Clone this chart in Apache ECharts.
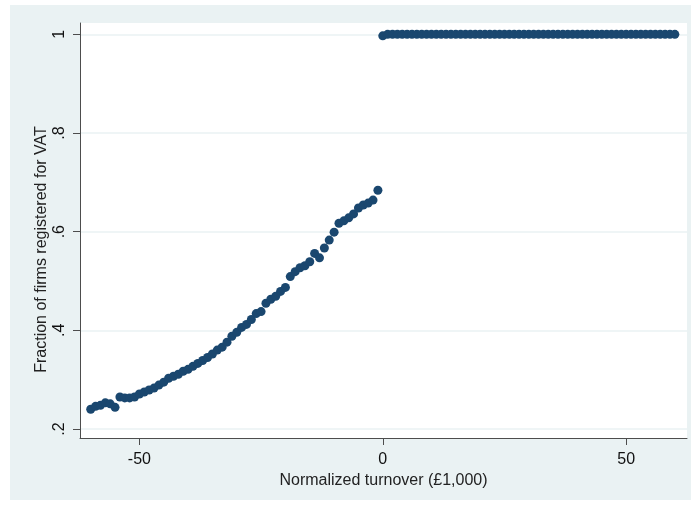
<!DOCTYPE html>
<html>
<head>
<meta charset="utf-8">
<script src="https://cdn.jsdelivr.net/npm/echarts@6/dist/echarts.min.js"></script>
<style>
  html, body { margin: 0; padding: 0; background: #fff; }
  #chart { width: 691px; height: 506px; }
</style>
</head>
<body>
<div id="chart"></div>
<script>
// bins below the threshold
var belowX = [-60, -59, -58, -57, -56, -55, -54, -53, -52, -51,
  -50, -49, -48, -47, -46, -45, -44, -43, -42, -41,
  -40, -39, -38, -37, -36, -35, -34, -33, -32, -31,
  -30, -29, -28, -27, -26, -25, -24, -23, -22, -21,
  -20, -19, -18, -17, -16, -15, -14, -13, -12, -11,
  -10, -9, -8, -7, -6, -5, -4, -3, -2, -1]
var belowY = [0.240, 0.246, 0.248, 0.253, 0.251, 0.244, 0.265, 0.263, 0.263, 0.265,
  0.271, 0.275, 0.279, 0.283, 0.289, 0.295, 0.303, 0.307, 0.311, 0.317,
  0.321, 0.327, 0.333, 0.339, 0.345, 0.352, 0.360, 0.366, 0.376, 0.388,
  0.396, 0.406, 0.412, 0.422, 0.434, 0.438, 0.455, 0.463, 0.469, 0.479,
  0.487, 0.509, 0.519, 0.527, 0.531, 0.539, 0.556, 0.547, 0.567, 0.583,
  0.599, 0.617, 0.622, 0.628, 0.636, 0.648, 0.654, 0.658, 0.664, 0.684]

// bins at and above the threshold
var aboveX = [0, 1, 2, 3, 4, 5, 6, 7, 8, 9,
  10, 11, 12, 13, 14, 15, 16, 17, 18, 19,
  20, 21, 22, 23, 24, 25, 26, 27, 28, 29,
  30, 31, 32, 33, 34, 35, 36, 37, 38, 39,
  40, 41, 42, 43, 44, 45, 46, 47, 48, 49,
  50, 51, 52, 53, 54, 55, 56, 57, 58, 59, 60]
var aboveY = [0.997, 1, 1, 1, 1, 1, 1, 1, 1, 1,
  1, 1, 1, 1, 1, 1, 1, 1, 1, 1,
  1, 1, 1, 1, 1, 1, 1, 1, 1, 1,
  1, 1, 1, 1, 1, 1, 1, 1, 1, 1,
  1, 1, 1, 1, 1, 1, 1, 1, 1, 1,
  1, 1, 1, 1, 1, 1, 1, 1, 1, 1, 1]

var xTicks = [-50, 0, 50]
var yTicks = [0.2, 0.4, 0.6, 0.8, 1]

var navy = '#1a476f'
var bg = '#eaf2f3'
var font = 'Liberation Sans'

function pairs (xs, ys) {
  return xs.map(function (x, i) { return [x, ys[i]] })
}

function fmtY (v) {
  if (v === 1) return '1'
  return String(v).replace(/^0/, '')
}

var chart = echarts.init(document.getElementById('chart'))
chart.setOption({
  animation: false,
  backgroundColor: '#fff',
  graphic: [{
    type: 'rect',
    z: -10,
    shape: { x: 10, y: 5, width: 681, height: 495 },
    style: { fill: bg }
  }],
  grid: {
    left: 80,
    top: 23,
    right: 4,
    bottom: 68,
    show: true,
    backgroundColor: '#fff',
    borderWidth: 0
  },
  xAxis: {
    type: 'value',
    min: -62.2,
    max: 62.5,
    name: 'Normalized turnover (£1,000)',
    nameLocation: 'middle',
    nameGap: 34,
    nameTextStyle: { fontFamily: font, fontSize: 16, color: '#222' },
    axisLine: { onZero: false, lineStyle: { color: '#4d4d4d', width: 1 } },
    axisTick: { length: 7, customValues: xTicks, lineStyle: { color: '#4d4d4d' } },
    axisLabel: { customValues: xTicks, margin: 14, fontFamily: font, fontSize: 16, color: '#111' },
    splitLine: { show: false }
  },
  yAxis: {
    type: 'value',
    min: 0.1818,
    max: 1.023,
    name: 'Fraction of firms registered for VAT',
    nameLocation: 'middle',
    nameGap: 30,
    nameMoveOverlap: false,
    nameTextStyle: { fontFamily: font, fontSize: 16, color: '#222', padding: [0, 38, 0, 0] },
    axisLine: { show: true, onZero: false, lineStyle: { color: '#4d4d4d', width: 1 } },
    axisTick: { show: true, length: 7, customValues: yTicks, lineStyle: { color: '#4d4d4d' } },
    axisLabel: {
      customValues: yTicks,
      rotate: 90,
      margin: 12,
      fontFamily: font,
      fontSize: 16,
      color: '#111',
      formatter: fmtY
    },
    splitLine: { show: true, lineStyle: { color: bg, width: 1.5 } }
  },
  series: [{
    type: 'scatter',
    symbolSize: 9,
    itemStyle: { color: navy, opacity: 1 },
    data: pairs(belowX, belowY)
  }, {
    type: 'scatter',
    symbolSize: 9,
    itemStyle: { color: navy, opacity: 1 },
    data: pairs(aboveX, aboveY)
  }]
})
</script>
</body>
</html>
